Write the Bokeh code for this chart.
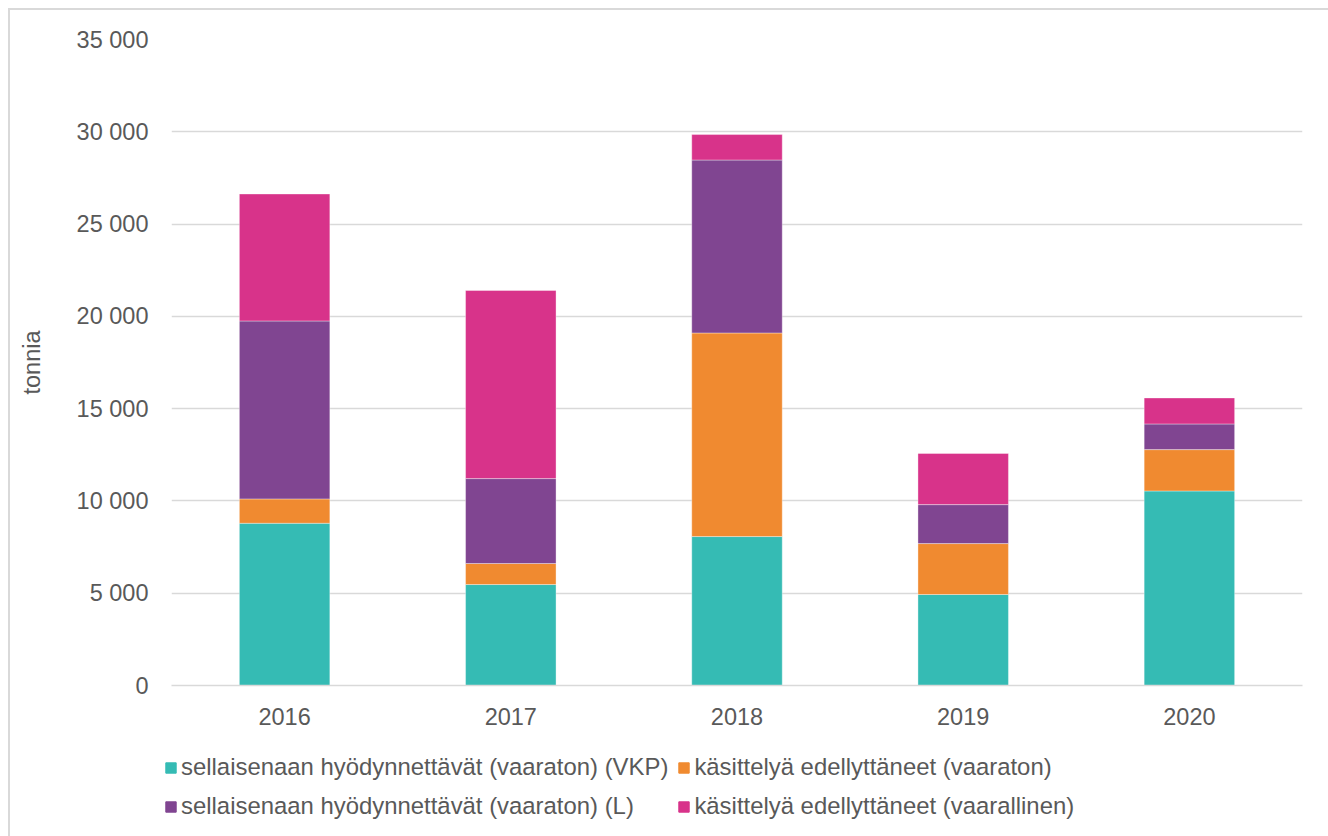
from bokeh.plotting import figure
from bokeh.layouts import column
from bokeh.models import ColumnDataSource, FixedTicker, CustomJSTickFormatter, Legend, LegendItem
from bokeh.embed import file_html
from bokeh.resources import INLINE

years = ["2016", "2017", "2018", "2019", "2020"]
vkp = [8790, 5470, 8070, 4930, 10540]
kasittely_vaaraton = [1320, 1140, 11030, 2760, 2240]
l_vaaraton = [9640, 4600, 9370, 2110, 1390]
vaarallinen = [6880, 10190, 1380, 2770, 1410]

series = ["vkp", "kv", "lv", "vl"]
labels = [
    "sellaisenaan hyödynnettävät (vaaraton) (VKP)",
    "käsittelyä edellyttäneet (vaaraton)",
    "sellaisenaan hyödynnettävät (vaaraton) (L)",
    "käsittelyä edellyttäneet (vaarallinen)",
]
colors = ["#35BBB4", "#F08A30", "#804591", "#D8338A"]
y_ticks = [0, 5000, 10000, 15000, 20000, 25000, 30000, 35000]

source = ColumnDataSource(dict(year=years, vkp=vkp, kv=kasittely_vaaraton, lv=l_vaaraton, vl=vaarallinen))

FONT = "Liberation Sans"
TXT = "#595959"
FS = "23.5px"

p = figure(x_range=years, y_range=(0, 35000), width=1318, height=730,
           output_backend="svg", toolbar_location=None,
           min_border_left=161, min_border_right=26, min_border_top=29, min_border_bottom=55)
p.outline_line_color = None
p.x_range.range_padding = 0
p.frame_align = False

p.vbar_stack(series, x="year", width=0.4, color=colors, source=source,
             line_color="white", line_width=0.6, line_alpha=0.6)

p.xgrid.grid_line_color = None
p.ygrid.grid_line_color = "#d9d9d9"
p.ygrid.grid_line_width = 1.5
p.yaxis.ticker = FixedTicker(ticks=y_ticks)
p.yaxis.formatter = CustomJSTickFormatter(code="""
return tick.toFixed(0).replace(/\\B(?=(\\d{3})+(?!\\d))/g, " ");
""")
for ax in (p.xaxis, p.yaxis):
    ax.axis_line_color = None
    ax.major_tick_line_color = None
    ax.minor_tick_line_color = None
    ax.major_label_text_font = FONT
    ax.major_label_text_font_size = FS
    ax.major_label_text_color = TXT
p.xaxis.axis_line_color = "#d9d9d9"
p.xaxis.axis_line_width = 1.5
p.yaxis.major_label_standoff = 17
p.xaxis.major_label_standoff = 16
p.yaxis.axis_label = "tonnia"
p.yaxis.axis_label_text_font = FONT
p.yaxis.axis_label_text_font_size = FS
p.yaxis.axis_label_text_font_style = "normal"
p.yaxis.axis_label_text_color = TXT
p.yaxis.axis_label_standoff = 29

# legend strip
pl = figure(width=1318, height=96, output_backend="svg", toolbar_location=None,
            x_axis_type=None, y_axis_type=None, x_range=(0, 1), y_range=(0, 1),
            min_border=0)
pl.frame_align = False
pl.outline_line_color = None
pl.grid.grid_line_color = None
dummies = [pl.vbar(x=[-10], top=[-10], width=0.1, color=c) for c in colors]
order = [0, 2, 1, 3]
items = [LegendItem(label=labels[i], renderers=[dummies[i]]) for i in order]
legend = Legend(items=items, orientation="vertical", nrows=2,
                location=(154, 15), padding=0, margin=0, spacing=9,
                glyph_width=13, glyph_height=13, label_standoff=4,
                label_height=30, label_text_font=FONT, label_text_font_size="23.9px",
                label_text_color=TXT, background_fill_alpha=0, border_line_color=None)
pl.add_layout(legend, "center")

layout = column(p, pl, spacing=0,
                styles={"border-left": "2px solid #d9d9d9", "border-top": "2px solid #d9d9d9",
                        "margin-left": "8px", "margin-top": "8px"})

open("out.html", "w").write(file_html(layout, INLINE))
